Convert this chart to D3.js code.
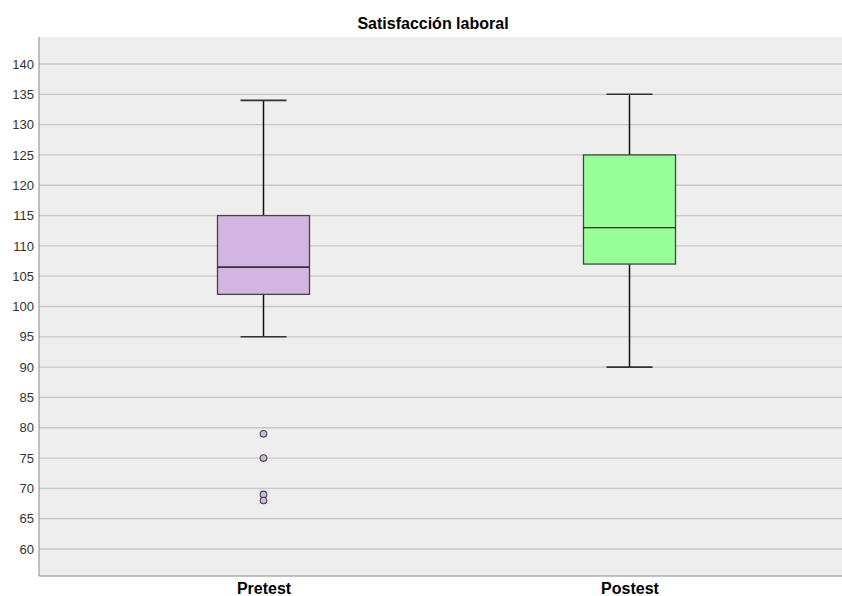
<!DOCTYPE html>
<html><head><meta charset="utf-8">
<script src="https://cdn.jsdelivr.net/npm/d3@7"></script>
<style>body{margin:0;background:#fff}svg{display:block}</style>
</head><body><svg id="c" width="842" height="596"></svg>
<script>
const categories = ["Pretest", "Postest"];
const whiskerLow = [95, 90];
const q1 = [102, 107];
const medians = [106.5, 113];
const q3 = [115, 125];
const whiskerHigh = [134, 135];
const outliers = [[79, 75, 69, 68], []];
const fills = ["#d3b5e2", "#99ff99"];
const yTicks = [60,65,70,75,80,85,90,95,100,105,110,115,120,125,130,135,140];
const title = "Satisfacción laboral";

const W = 842, H = 596;
const m = {l: 39, r: 0, t: 37, b: 576};
const svg = d3.select("#c");
const y = d3.scaleLinear().domain([55.55, 144.45]).range([m.b, m.t]);
const x = d3.scalePoint().domain(categories).range([45, 848]).padding(0.597);

svg.append("rect").attr("x", m.l).attr("y", m.t).attr("width", W - m.l).attr("height", m.b - m.t).attr("fill", "#eeeeee");

// grid
svg.append("g").selectAll("line").data(yTicks).join("line")
  .attr("x1", m.l).attr("x2", W).attr("y1", d => y(d)).attr("y2", d => y(d))
  .attr("stroke", "#c8c8c8").attr("stroke-width", 1.3);

// y axis
const ya = svg.append("g").attr("transform", `translate(${m.l},0)`)
  .call(d3.axisLeft(y).tickValues(yTicks).tickSize(0).tickPadding(5));
ya.select(".domain").remove();
ya.selectAll("text").attr("font-family", "Liberation Sans, Arial, sans-serif").attr("font-size", 13).attr("fill", "#333");
svg.append("line").attr("x1", m.l).attr("x2", m.l).attr("y1", m.t).attr("y2", m.b).attr("stroke", "#888").attr("stroke-width", 1);
svg.append("line").attr("x1", m.l).attr("x2", W).attr("y1", m.b).attr("y2", m.b).attr("stroke", "#888").attr("stroke-width", 1.2);

// x axis labels
const xa = svg.append("g").attr("transform", `translate(0,${m.b})`)
  .call(d3.axisBottom(x).tickSize(0).tickPadding(7));
xa.select(".domain").remove();
xa.selectAll("text").attr("font-family", "Liberation Sans, Arial, sans-serif").attr("font-size", 16).attr("font-weight", "bold").attr("fill", "#000");

const boxW = 92, capW = 46;
const g = svg.append("g").selectAll("g").data(categories).join("g");
g.each(function(c, i) {
  const s = d3.select(this), cx = x(c);
  s.append("line").attr("x1", cx).attr("x2", cx).attr("y1", y(whiskerHigh[i])).attr("y2", y(q3[i])).attr("stroke", "#111").attr("stroke-width", 1.5);
  s.append("line").attr("x1", cx).attr("x2", cx).attr("y1", y(q1[i])).attr("y2", y(whiskerLow[i])).attr("stroke", "#111").attr("stroke-width", 1.5);
  [whiskerHigh[i], whiskerLow[i]].forEach(v => s.append("line").attr("x1", cx - capW/2).attr("x2", cx + capW/2).attr("y1", y(v)).attr("y2", y(v)).attr("stroke", "#333").attr("stroke-width", 1.6));
  s.append("rect").attr("x", cx - boxW/2).attr("width", boxW).attr("y", y(q3[i])).attr("height", y(q1[i]) - y(q3[i]))
    .attr("fill", fills[i]).attr("stroke", "#444").attr("stroke-width", 1.3);
  s.append("line").attr("x1", cx - boxW/2).attr("x2", cx + boxW/2).attr("y1", y(medians[i])).attr("y2", y(medians[i]))
    .attr("stroke", i === 0 ? "#333" : "#000").attr("stroke-width", i === 0 ? 1.6 : 1.1);
  s.selectAll("circle").data(outliers[i]).join("circle")
    .attr("cx", cx).attr("cy", v => y(v)).attr("r", 3.3)
    .attr("fill", fills[i]).attr("stroke", "#444").attr("stroke-width", 1.1);
});

svg.append("text").attr("x", 433).attr("y", 28.5).attr("text-anchor", "middle")
  .attr("font-family", "Liberation Sans, Arial, sans-serif").attr("font-size", 16).attr("font-weight", "bold").text(title);
</script></body></html>
